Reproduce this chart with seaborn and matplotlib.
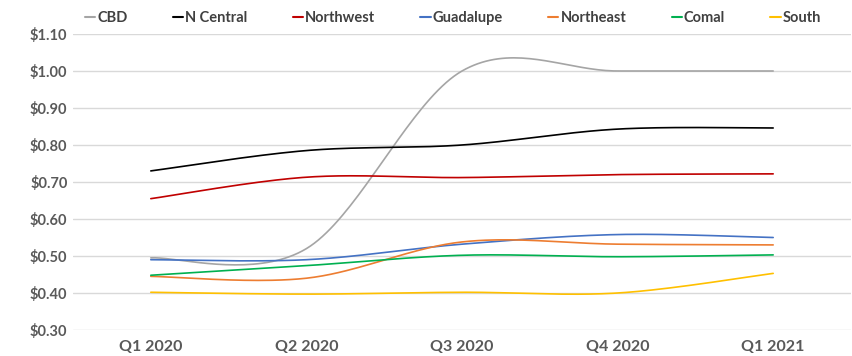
import numpy as np
import pandas as pd
import matplotlib
matplotlib.use("Agg")
import matplotlib.pyplot as plt
import seaborn as sns
from matplotlib.lines import Line2D

quarters = ["Q1 2020", "Q2 2020", "Q3 2020", "Q4 2020", "Q1 2021"]
cbd = [0.495, 0.520, 1.000, 1.00, 1.00]
n_central = [0.730, 0.785, 0.800, 0.843, 0.846]
northwest = [0.655, 0.713, 0.712, 0.720, 0.722]
guadalupe = [0.490, 0.490, 0.532, 0.558, 0.550]
northeast = [0.445, 0.440, 0.538, 0.532, 0.530]
comal = [0.448, 0.474, 0.502, 0.498, 0.503]
south = [0.402, 0.397, 0.402, 0.400, 0.453]
y_ticks = [0.30, 0.40, 0.50, 0.60, 0.70, 0.80, 0.90, 1.00, 1.10]

series = {
    "CBD": cbd, "N Central": n_central, "Northwest": northwest,
    "Guadalupe": guadalupe, "Northeast": northeast, "Comal": comal, "South": south,
}
colors = {
    "CBD": "#a5a5a5", "N Central": "#000000", "Northwest": "#c00000",
    "Guadalupe": "#4472c4", "Northeast": "#ed7d31", "Comal": "#00b050", "South": "#ffc000",
}


def smooth(xs, ys, n=40):
    """Excel-style smoothed line: cubic Bezier through points (Catmull-Rom tangents)."""
    xs = np.asarray(xs, float)
    ys = np.asarray(ys, float)
    px = np.concatenate([[xs[0]], xs, [xs[-1]]])
    py = np.concatenate([[ys[0]], ys, [ys[-1]]])
    ox, oy = [], []
    t = np.linspace(0, 1, n)
    for i in range(1, len(xs)):
        p0 = np.array([px[i], py[i]])
        p3 = np.array([px[i + 1], py[i + 1]])
        p1 = p0 + (np.array([px[i + 1], py[i + 1]]) - np.array([px[i - 1], py[i - 1]])) / 6
        p2 = p3 - (np.array([px[i + 2], py[i + 2]]) - np.array([px[i], py[i]])) / 6
        b = ((1 - t) ** 3)[:, None] * p0 + (3 * (1 - t) ** 2 * t)[:, None] * p1 \
            + (3 * (1 - t) * t ** 2)[:, None] * p2 + (t ** 3)[:, None] * p3
        ox.extend(b[:, 0]); oy.extend(b[:, 1])
    return np.array(ox), np.array(oy)


rows = []
xpos = np.arange(len(quarters))
for name, vals in series.items():
    sx, sy = smooth(xpos, vals)
    for i, (a, b) in enumerate(zip(sx, sy)):
        rows.append({"x": a, "y": b, "Region": name, "order": i})
df = pd.DataFrame(rows)

sns.set_style("white")
plt.rcParams["font.family"] = ["Lato", "DejaVu Sans"]

fig = plt.figure(figsize=(8.52, 3.56), dpi=100)
ax = fig.add_axes([0.0857, 0.073, 0.9131, 0.8315])

sns.lineplot(data=df, x="x", y="y", hue="Region", palette=colors, sort=False,
             estimator=None, units="Region", linewidth=1.2, ax=ax, legend=False)

ax.set_xlim(-0.5, len(quarters) - 0.5)
ax.set_ylim(0.30, 1.10)
ax.set_yticks(y_ticks)
ax.set_yticklabels([f"${v:.2f}" for v in y_ticks], fontsize=10.5, fontweight="bold", color="#595959")
ax.set_xticks(xpos)
ax.set_xticklabels(quarters, fontsize=11.5, fontweight="bold", color="#595959")
ax.tick_params(axis="y", length=0, pad=4)
ax.tick_params(axis="x", length=0, pad=7)
ax.grid(axis="y", color="#d9d9d9", linewidth=1)
ax.set_axisbelow(True)
for s in ax.spines.values():
    s.set_visible(False)
ax.set_xlabel("")
ax.set_ylabel("")

handles = [Line2D([0], [0], color=colors[n], lw=1.5) for n in series]
leg = fig.legend(handles, list(series.keys()), loc="center", bbox_to_anchor=(453 / 852, 0.949),
                 ncol=7, frameon=False, handlelength=0.7, handletextpad=0.15,
                 columnspacing=3.1, labelcolor="#404040", prop={"weight": "bold", "size": 10.5})

fig.savefig("out.png", dpi=100)
